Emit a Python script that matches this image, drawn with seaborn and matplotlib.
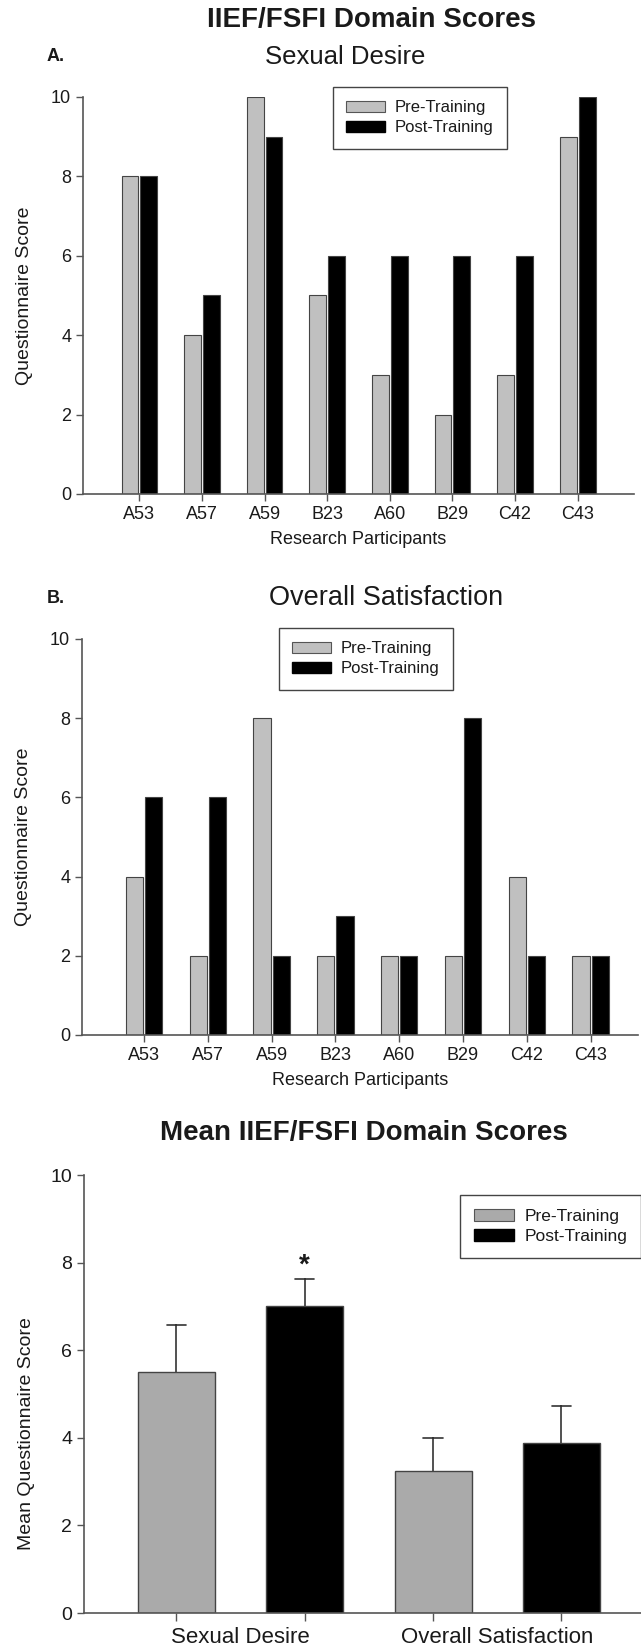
import numpy as np
import pandas as pd
import matplotlib
matplotlib.use("Agg")
import matplotlib.pyplot as plt
import seaborn as sns
from matplotlib.patches import Patch

# data
participants = ['A53', 'A57', 'A59', 'B23', 'A60', 'B29', 'C42', 'C43']
desire_pre = [8, 4, 10, 5, 3, 2, 3, 9]
desire_post = [8, 5, 9, 6, 6, 6, 6, 10]
satis_pre = [4, 2, 8, 2, 2, 2, 4, 2]
satis_post = [6, 6, 2, 3, 2, 8, 2, 2]
phases = ['Pre-Training', 'Post-Training']
domains = ['Sexual Desire', 'Overall Satisfaction']

sns.set_theme(style='ticks')
plt.rcParams['font.family'] = ['Liberation Sans', 'DejaVu Sans']

TXT = '#1a1a1a'
AX = '#555555'
EDGE = '#444444'
light = '#c0c0c0'
mid = '#aaaaaa'


def make_long(pre, post, domain):
    rows = []
    for p, a, b in zip(participants, pre, post):
        rows.append({'Participant': p, 'Phase': phases[0], 'Score': a, 'Domain': domain})
        rows.append({'Participant': p, 'Phase': phases[1], 'Score': b, 'Domain': domain})
    return pd.DataFrame(rows)


df_desire = make_long(desire_pre, desire_post, domains[0])
df_satis = make_long(satis_pre, satis_post, domains[1])
df_all = pd.concat([df_desire, df_satis], ignore_index=True)

fig = plt.figure(figsize=(6.41, 16.52), dpi=100)


def style_axis(ax, xlim, tick_size):
    sns.despine(ax=ax)
    for s in ['left', 'bottom']:
        ax.spines[s].set_color(AX)
        ax.spines[s].set_linewidth(1.2)
    ax.set_ylim(0, 10)
    ax.set_yticks(range(0, 11, 2))
    ax.set_xlim(*xlim)
    ax.tick_params(axis='both', colors=AX, labelcolor=TXT, length=5, width=1.0,
                   labelsize=tick_size, direction='out')
    ax.set_facecolor('white')


def legend_at(ax, x, y, size, pre_color):
    handles = [Patch(facecolor=pre_color, edgecolor='#555555', linewidth=0.8),
               Patch(facecolor='black', edgecolor='black')]
    leg = ax.legend(handles, phases, loc='upper left', bbox_to_anchor=(x, y),
                    bbox_transform=fig.transFigure, frameon=True, fancybox=False,
                    edgecolor='#444444', framealpha=1, fontsize=size,
                    handlelength=2.3, handleheight=0.7, labelspacing=0.3,
                    borderpad=0.8, handletextpad=0.6, borderaxespad=0)
    leg.get_frame().set_linewidth(1.0)
    for t in leg.get_texts():
        t.set_color(TXT)


# ---- panel A
axA = fig.add_axes([0.1295, 0.7010, 0.8596, 0.2403])
sns.barplot(data=df_desire, x='Participant', y='Score', hue='Phase',
            palette=[light, 'black'], width=0.6, gap=0.1, errorbar=None,
            edgecolor=EDGE, linewidth=0.8, legend=False, ax=axA)
style_axis(axA, (-0.9, 7.9), 13)
axA.set_xlabel('Research Participants', fontsize=13, color=TXT, labelpad=6)
axA.set_ylabel('Questionnaire Score', fontsize=14, color=TXT, labelpad=13)
legend_at(axA, 0.5195, 0.9473, 12, light)

# ---- panel B
axB = fig.add_axes([0.128, 0.3735, 0.867, 0.2397])
sns.barplot(data=df_satis, x='Participant', y='Score', hue='Phase',
            palette=[light, 'black'], width=0.6, gap=0.1, errorbar=None,
            edgecolor=EDGE, linewidth=0.8, legend=False, ax=axB)
style_axis(axB, (-0.97, 7.74), 13)
axB.set_xlabel('Research Participants', fontsize=13, color=TXT, labelpad=6)
axB.set_ylabel('Questionnaire Score', fontsize=14, color=TXT, labelpad=13)
legend_at(axB, 0.435, 0.6199, 12, light)

# ---- panel C: means with SEM
axC = fig.add_axes([0.131, 0.0236, 0.869, 0.2651])
sns.barplot(data=df_all, x='Domain', y='Score', hue='Phase',
            palette=[mid, 'black'], width=1.0, gap=0.4, errorbar='se',
            capsize=0.15, err_kws={'color': '#333333', 'linewidth': 1.2},
            edgecolor=EDGE, linewidth=1.0, legend=False, ax=axC)
for ln in axC.lines:
    ln.set_zorder(0.5)
for p in axC.patches:
    p.set_zorder(2)
style_axis(axC, (-0.61, 1.56), 14)
axC.tick_params(axis='x', length=0, labelsize=16, pad=10)
bar_centers = sorted(p.get_x() + p.get_width() / 2 for p in axC.patches if p.get_width() > 0)
axC.set_xticks(bar_centers, minor=True)
axC.tick_params(axis='x', which='minor', length=6, width=1.0, colors=AX)
axC.set_xlabel('')
axC.set_ylabel('Mean Questionnaire Score', fontsize=14, color=TXT)
axC.yaxis.set_label_coords(-0.088, 0.41)
legend_at(axC, 0.7176, 0.2766, 12.5, mid)

# significance star above the post-training desire bar
post_desire = np.array(desire_post)
sem = post_desire.std(ddof=1) / np.sqrt(len(post_desire))
axC.text(bar_centers[1], post_desire.mean() + sem + 0.3, '*', ha='center', va='center',
         fontsize=20, fontweight='bold', color=TXT)

# ---- titles and panel letters
fig.text(0.58, 0.9879, 'IIEF/FSFI Domain Scores', ha='center', va='center',
         fontsize=20, fontweight='bold', color=TXT)
fig.text(0.073, 0.9655, 'A.', ha='left', va='center', fontsize=13, fontweight='bold', color=TXT)
fig.text(0.538, 0.9655, 'Sexual Desire', ha='center', va='center', fontsize=18.5, color=TXT)
fig.text(0.073, 0.638, 'B.', ha='left', va='center', fontsize=13, fontweight='bold', color=TXT)
fig.text(0.602, 0.638, 'Overall Satisfaction', ha='center', va='center', fontsize=19.5, color=TXT)
fig.text(0.568, 0.3142, 'Mean IIEF/FSFI Domain Scores', ha='center', va='center',
         fontsize=20, fontweight='bold', color=TXT)

fig.savefig('out.png', dpi=100, facecolor='white')
